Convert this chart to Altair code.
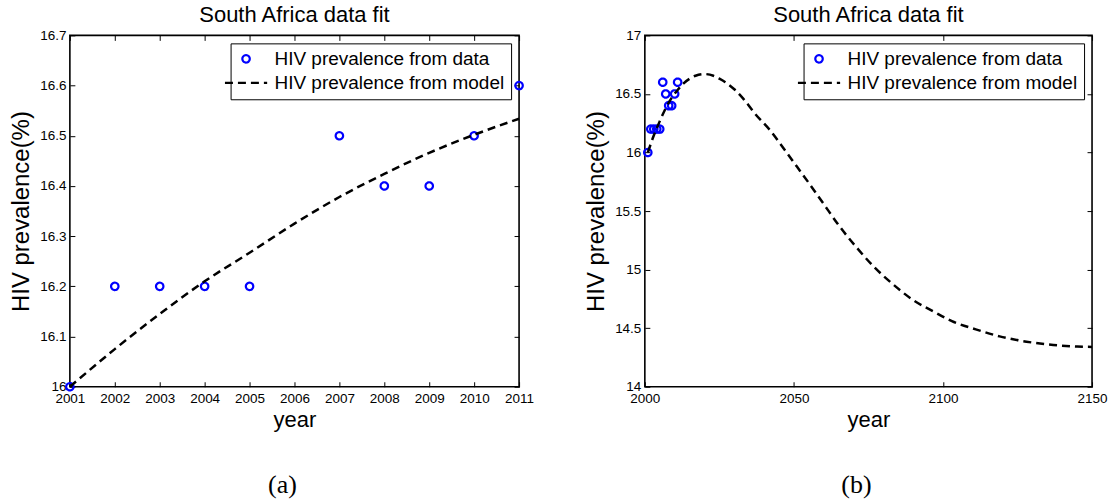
import altair as alt
import pandas as pd

SANS = "Liberation Sans"
SERIF = "Liberation Serif"

SERIES = ["HIV prevalence from data", "HIV prevalence from model"]

# Survey estimates (% of population)
data_years = [2001, 2002, 2003, 2004, 2005, 2006, 2007, 2008, 2009, 2010, 2011]
data_prev = [16.0, 16.2, 16.2, 16.2, 16.2, 16.6, 16.5, 16.4, 16.4, 16.5, 16.6]

# Model output over the fitting window
model_years_a = [2001, 2002, 2003, 2004, 2005, 2006, 2007, 2008, 2009, 2010, 2011]
model_prev_a = [16.00, 16.075, 16.145, 16.21, 16.267, 16.325, 16.378, 16.424,
                16.466, 16.502, 16.534]

# Model output projected to 2150
model_years_b = [2001, 2003, 2005, 2007, 2009, 2011, 2013, 2015, 2017, 2020,
                 2023, 2025, 2027, 2030, 2033, 2037, 2042, 2047, 2051, 2055,
                 2060, 2065, 2071, 2077, 2083, 2090, 2097, 2103, 2111, 2119,
                 2128, 2137, 2145, 2150]
model_prev_b = [16.00, 16.145, 16.267, 16.378, 16.466, 16.534, 16.59, 16.63,
                16.655, 16.67, 16.655, 16.63, 16.60, 16.54, 16.46, 16.33,
                16.19, 16.02, 15.88, 15.74, 15.56, 15.38, 15.19, 15.02,
                14.88, 14.74, 14.64, 14.56, 14.49, 14.43, 14.385, 14.357,
                14.343, 14.34]

x_ticks_a = [2001, 2002, 2003, 2004, 2005, 2006, 2007, 2008, 2009, 2010, 2011]
y_ticks_a = [16.0, 16.1, 16.2, 16.3, 16.4, 16.5, 16.6, 16.7]
x_ticks_b = [2000, 2050, 2100, 2150]
y_ticks_b = [14.0, 14.5, 15.0, 15.5, 16.0, 16.5, 17.0]

PLOT_H = 352


def frame(years, prev, label):
    return pd.DataFrame({"year": years, "prev": prev, "series": label})


def panel(x_dom, x_ticks, y_dom, y_ticks, model_years, model_prev, width, caption):
    pts = frame(data_years, data_prev, SERIES[0])
    mod = frame(model_years, model_prev, SERIES[1])

    xs = alt.Scale(domain=x_dom, nice=False, zero=False)
    ys = alt.Scale(domain=y_dom, nice=False, zero=False)
    cs = alt.Scale(domain=SERIES, range=["#0000ff", "#000000"])
    ss = alt.Scale(domain=SERIES, range=["circle", "M-5.7,0H5.7"])
    ds = alt.Scale(domain=SERIES, range=[[1, 0], [8, 5]])

    legend = alt.Legend(
        title=None, orient="top-right", offset=8,
        strokeColor="black", fillColor="white", padding=6,
        labelFont=SANS, labelFontSize=19, labelColor="black", labelLimit=400,
        labelOffset=19, rowPadding=4, symbolSize=55,
        symbolStrokeWidth=2.2, symbolFillColor="transparent",
    )

    common = dict(
        labelFont=SANS, labelFontSize=13.5, labelColor="black",
        tickColor="black", tickSize=5, tickWidth=1, offset=-5,
        domain=False, grid=False, labelOverlap=False, labelFlush=False,
    )

    def axis(orient, ticks, fmt, title=None, labels=True, **extra):
        kw = dict(common)
        kw["values"] = ticks
        kw.update(extra)
        if title is not None:
            kw.update(title=title, titleFont=SANS, titleFontWeight="normal",
                      titleColor="black")
        else:
            kw["title"] = None
        return alt.Axis(orient=orient, format=fmt, labels=labels, **kw)

    points = alt.Chart(pts).mark_point(
        filled=False, size=55, strokeWidth=2.2, opacity=1
    ).encode(
        x=alt.X("year:Q", scale=xs,
                axis=axis("bottom", x_ticks, "d", "year", labelPadding=5,
                          titleFontSize=22, titlePadding=4)),
        y=alt.Y("prev:Q", scale=ys,
                axis=axis("left", y_ticks, "~g", "HIV prevalence(%)",
                          labelPadding=4, titleFontSize=24, titlePadding=6)),
        color=alt.Color("series:N", scale=cs, legend=legend),
        shape=alt.Shape("series:N", scale=ss, legend=legend),
        strokeDash=alt.StrokeDash("series:N", scale=ds, legend=legend),
    )

    line = alt.Chart(mod).mark_line(strokeWidth=2.5, interpolate="monotone").encode(
        x=alt.X("year:Q", scale=xs, axis=axis("top", x_ticks, "d", labels=False)),
        y=alt.Y("prev:Q", scale=ys, axis=axis("right", y_ticks, "~g", labels=False)),
        color=alt.Color("series:N", scale=cs, legend=legend),
        strokeDash=alt.StrokeDash("series:N", scale=ds, legend=legend),
    )

    cap = alt.Chart(pd.DataFrame({"t": [caption]})).mark_text(
        font=SERIF, fontSize=26, color="black", baseline="alphabetic"
    ).encode(
        text="t:N",
        x=alt.value(width / 2 - 12),
        y=alt.value(PLOT_H + 106),
    )

    return alt.layer(points, line, cap).resolve_axis(
        x="independent", y="independent"
    ).properties(
        width=width, height=PLOT_H,
        title=alt.TitleParams("South Africa data fit", font=SANS, fontSize=22,
                              fontWeight="normal", color="black", offset=1),
    )


left = panel([2001, 2011], x_ticks_a, [16.0, 16.7], y_ticks_a,
             model_years_a, model_prev_a, 450, "(a)")
right = panel([2000, 2150], x_ticks_b, [14.0, 17.0], y_ticks_b,
              model_years_b, model_prev_b, 448, "(b)")

chart = alt.hconcat(left, right, spacing=126, bounds="flush").resolve_scale(
    color="independent", shape="independent", strokeDash="independent"
).properties(
    padding={"left": 8, "top": 3, "right": 4, "bottom": 0}
).configure_view(stroke="black", strokeWidth=1.6)

chart.save("out.html", embed_options={"renderer": "svg", "actions": False})
